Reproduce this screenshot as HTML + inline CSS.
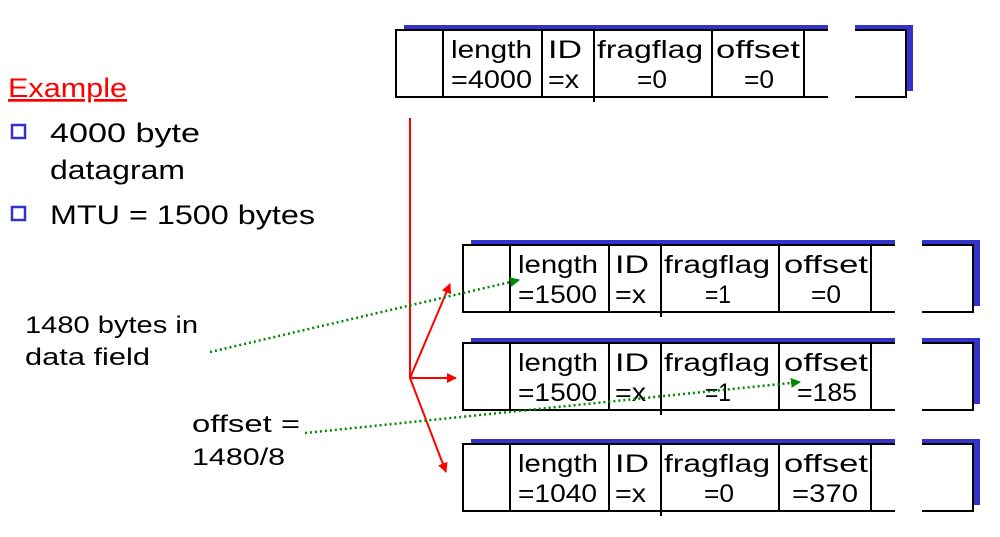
<!DOCTYPE html><html><head><style>body{margin:0;background:#fff}</style></head><body>
<svg width="1000" height="532" xmlns="http://www.w3.org/2000/svg" font-family="Liberation Sans, sans-serif">
<defs>
<marker id="r" markerWidth="10" markerHeight="10" refX="9" refY="5" orient="auto" markerUnits="userSpaceOnUse"><path d="M0,0 L10,5 L0,10 z" fill="#f00"/></marker>
<marker id="g" markerWidth="10" markerHeight="10" refX="9" refY="5" orient="auto" markerUnits="userSpaceOnUse"><path d="M0,0 L10,5 L0,10 z" fill="#080"/></marker>
<g id="box">
<rect x="8" y="-5" width="424" height="5" fill="#33c"/>
<rect x="459" y="-5" width="57" height="5" fill="#33c"/>
<rect x="510" y="-5" width="7" height="66" fill="#33c"/>
<path d="M432,0 H0 V67 H432 M459,0 H510 V67 H459" fill="none" stroke="#000" stroke-width="2"/>
<line x1="47" y1="0" x2="47" y2="67" stroke="#000" stroke-width="2"/>
<line x1="146" y1="0" x2="146" y2="67" stroke="#000" stroke-width="2"/>
<line x1="198" y1="0" x2="198" y2="72" stroke="#000" stroke-width="2"/>
<line x1="316" y1="0" x2="316" y2="67" stroke="#000" stroke-width="2"/>
<line x1="408" y1="0" x2="408" y2="67" stroke="#000" stroke-width="2"/>
</g>
</defs>
<g font-size="25" fill="#000" lengthAdjust="spacingAndGlyphs">
<g transform="translate(396,30)"><use href="#box"/>
<text x="55" y="28" textLength="81" lengthAdjust="spacingAndGlyphs">length</text><text x="55" y="58" textLength="81" lengthAdjust="spacingAndGlyphs">=4000</text>
<text x="152" y="28" textLength="34" lengthAdjust="spacingAndGlyphs">ID</text><text x="152" y="58" textLength="31" lengthAdjust="spacingAndGlyphs">=x</text>
<text x="201" y="28" textLength="106" lengthAdjust="spacingAndGlyphs">fragflag</text><text x="241" y="58" textLength="30" lengthAdjust="spacingAndGlyphs">=0</text>
<text x="320" y="28" textLength="84" lengthAdjust="spacingAndGlyphs">offset</text><text x="348" y="58" textLength="30" lengthAdjust="spacingAndGlyphs">=0</text></g>
<g transform="translate(463,245)"><use href="#box"/>
<text x="55" y="28" textLength="80" lengthAdjust="spacingAndGlyphs">length</text><text x="55" y="58" textLength="79" lengthAdjust="spacingAndGlyphs">=1500</text>
<text x="152" y="28" textLength="34" lengthAdjust="spacingAndGlyphs">ID</text><text x="152" y="58" textLength="31" lengthAdjust="spacingAndGlyphs">=x</text>
<text x="201" y="28" textLength="106" lengthAdjust="spacingAndGlyphs">fragflag</text><text x="242" y="58" textLength="26" lengthAdjust="spacingAndGlyphs">=1</text>
<text x="321" y="28" textLength="84" lengthAdjust="spacingAndGlyphs">offset</text><text x="348" y="58" textLength="30" lengthAdjust="spacingAndGlyphs">=0</text></g>
<g transform="translate(463,343)"><use href="#box"/>
<text x="55" y="28" textLength="80" lengthAdjust="spacingAndGlyphs">length</text><text x="55" y="58" textLength="79" lengthAdjust="spacingAndGlyphs">=1500</text>
<text x="152" y="28" textLength="34" lengthAdjust="spacingAndGlyphs">ID</text><text x="152" y="58" textLength="31" lengthAdjust="spacingAndGlyphs">=x</text>
<text x="201" y="28" textLength="106" lengthAdjust="spacingAndGlyphs">fragflag</text><text x="242" y="58" textLength="26" lengthAdjust="spacingAndGlyphs">=1</text>
<text x="321" y="28" textLength="84" lengthAdjust="spacingAndGlyphs">offset</text><text x="334" y="58" textLength="60" lengthAdjust="spacingAndGlyphs">=185</text></g>
<g transform="translate(463,444)"><use href="#box"/>
<text x="55" y="28" textLength="80" lengthAdjust="spacingAndGlyphs">length</text><text x="55" y="58" textLength="79" lengthAdjust="spacingAndGlyphs">=1040</text>
<text x="152" y="28" textLength="34" lengthAdjust="spacingAndGlyphs">ID</text><text x="152" y="58" textLength="31" lengthAdjust="spacingAndGlyphs">=x</text>
<text x="201" y="28" textLength="106" lengthAdjust="spacingAndGlyphs">fragflag</text><text x="241" y="58" textLength="30" lengthAdjust="spacingAndGlyphs">=0</text>
<text x="321" y="28" textLength="84" lengthAdjust="spacingAndGlyphs">offset</text><text x="329" y="58" textLength="66" lengthAdjust="spacingAndGlyphs">=370</text></g>
</g>
<g stroke="#f00" stroke-width="2" fill="none">
<line x1="410" y1="118" x2="410" y2="378"/>
<line x1="410" y1="378" x2="450" y2="284" marker-end="url(#r)"/>
<line x1="410" y1="378" x2="456" y2="378" marker-end="url(#r)"/>
<line x1="410" y1="378" x2="446" y2="472" marker-end="url(#r)"/>
</g>
<g stroke="#080" stroke-width="2.5" stroke-dasharray="2,3" fill="none">
<line x1="210" y1="352" x2="519" y2="280" marker-end="url(#g)"/>
<line x1="305" y1="433" x2="800" y2="382" marker-end="url(#g)"/>
</g>
<text x="8" y="97" font-size="27" fill="#f00" text-decoration="underline" textLength="119" lengthAdjust="spacingAndGlyphs">Example</text>
<rect x="12" y="125" width="13" height="13" fill="none" stroke="#33c" stroke-width="2.5"/>
<rect x="12" y="207" width="13" height="13" fill="none" stroke="#33c" stroke-width="2.5"/>
<g font-size="27" fill="#000">
<text x="50" y="142" textLength="150" lengthAdjust="spacingAndGlyphs">4000 byte</text>
<text x="50" y="179" textLength="135" lengthAdjust="spacingAndGlyphs">datagram</text>
<text x="50" y="224" textLength="265" lengthAdjust="spacingAndGlyphs">MTU = 1500 bytes</text>
</g>
<g font-size="24" fill="#000">
<text x="25" y="333" textLength="173" lengthAdjust="spacingAndGlyphs">1480 bytes in</text>
<text x="25" y="365" textLength="125" lengthAdjust="spacingAndGlyphs">data field</text>
<text x="192" y="432" textLength="108" lengthAdjust="spacingAndGlyphs">offset =</text>
<text x="192" y="465" textLength="93" lengthAdjust="spacingAndGlyphs">1480/8</text>
</g>
</svg></body></html>
